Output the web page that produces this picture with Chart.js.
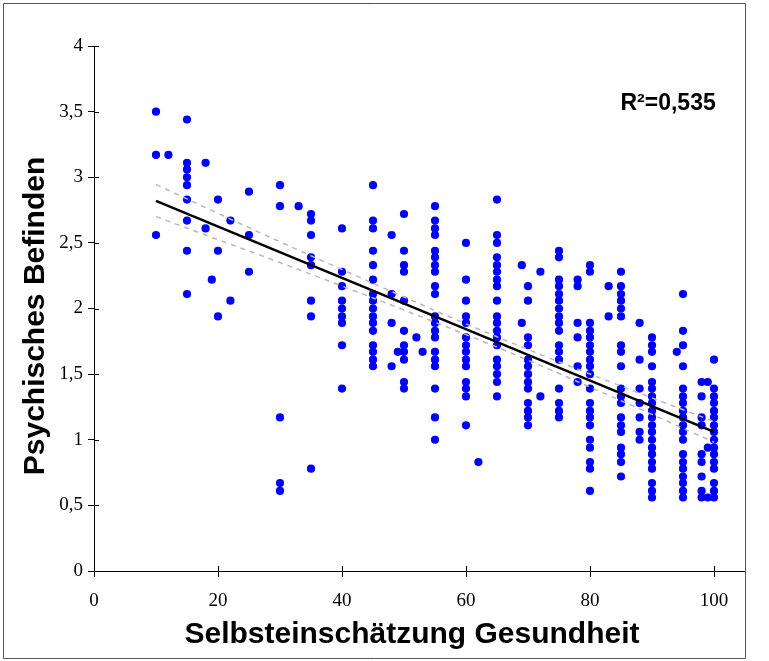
<!DOCTYPE html>
<html>
<head>
<meta charset="utf-8">
<script src="https://cdn.jsdelivr.net/npm/chart.js@4/dist/chart.umd.min.js"></script>
<style>
  html, body { margin: 0; padding: 0; background: #fff; }
  #wrap { width: 769px; height: 661px; position: relative; }
</style>
</head>
<body>
<div id="wrap"><canvas id="c" width="769" height="661"></canvas></div>
<script>
// Self-rated health (x) and psychological well-being (y), grouped by health score
const healthScores = [10, 12, 15, 18, 19, 20, 22, 25, 30, 33, 35, 40, 45, 48, 49, 50, 52, 53, 55, 60, 62, 65, 69, 70, 72, 75, 78, 80, 83, 85, 88, 90, 94, 95, 98, 99, 100];
const wellbeingScores = [
  [3.50, 3.17, 2.56],
  [3.17],
  [3.44, 3.11, 3.06, 3.00, 2.94, 2.83, 2.67, 2.44, 2.11],
  [3.11, 2.61],
  [2.22],
  [2.83, 2.44, 1.94],
  [2.67, 2.06],
  [2.89, 2.56, 2.28],
  [2.94, 2.78, 1.17, 0.67, 0.61],
  [2.78],
  [2.72, 2.67, 2.56, 2.39, 2.33, 2.06, 1.94, 0.78],
  [2.61, 2.28, 2.17, 2.06, 2.00, 1.94, 1.89, 1.72, 1.39],
  [2.94, 2.67, 2.61, 2.44, 2.33, 2.22, 2.11, 2.06, 2.00, 1.94, 1.89, 1.83, 1.72, 1.67, 1.61, 1.56],
  [2.56, 2.11, 1.89, 1.56],
  [1.67],
  [2.72, 2.44, 2.33, 2.28, 2.06, 1.83, 1.72, 1.67, 1.61, 1.44, 1.39],
  [1.78],
  [1.67],
  [2.78, 2.67, 2.61, 2.56, 2.44, 2.39, 2.33, 2.28, 2.17, 2.11, 1.94, 1.89, 1.83, 1.78, 1.67, 1.61, 1.56, 1.39, 1.17, 1.00],
  [2.50, 2.22, 2.06, 1.94, 1.89, 1.78, 1.72, 1.67, 1.61, 1.56, 1.44, 1.39, 1.33, 1.11],
  [0.83],
  [2.83, 2.56, 2.50, 2.39, 2.33, 2.28, 2.22, 2.17, 2.06, 1.94, 1.89, 1.83, 1.78, 1.72, 1.61, 1.56, 1.50, 1.44, 1.33],
  [2.33, 1.89],
  [2.17, 2.06, 1.78, 1.72, 1.61, 1.56, 1.50, 1.44, 1.39, 1.28, 1.22, 1.17, 1.11],
  [2.28, 1.33],
  [2.44, 2.39, 2.22, 2.17, 2.11, 2.06, 2.00, 1.94, 1.89, 1.83, 1.72, 1.67, 1.61, 1.39, 1.28, 1.22, 1.17],
  [2.22, 2.17, 1.89, 1.78, 1.56, 1.44],
  [2.33, 2.28, 1.89, 1.83, 1.78, 1.72, 1.67, 1.61, 1.56, 1.50, 1.39, 1.28, 1.22, 1.17, 1.11, 1.00, 0.94, 0.83, 0.78, 0.61],
  [2.17, 1.94],
  [2.28, 2.17, 2.11, 2.06, 2.00, 1.94, 1.72, 1.67, 1.56, 1.39, 1.33, 1.28, 1.17, 1.11, 1.06, 0.94, 0.89, 0.83, 0.72],
  [1.89, 1.61, 1.39, 1.28, 1.17, 1.06, 1.00],
  [1.78, 1.72, 1.67, 1.56, 1.44, 1.39, 1.33, 1.28, 1.22, 1.17, 1.11, 1.06, 1.00, 0.94, 0.89, 0.83, 0.78, 0.67, 0.61, 0.56],
  [1.67],
  [2.11, 1.83, 1.72, 1.56, 1.39, 1.33, 1.28, 1.22, 1.17, 1.11, 1.06, 1.00, 0.89, 0.83, 0.78, 0.72, 0.67, 0.61, 0.56],
  [1.44, 1.33, 1.17, 1.11, 0.89, 0.83, 0.72, 0.61, 0.56],
  [1.44, 0.94, 0.56],
  [1.61, 1.39, 1.33, 1.28, 1.22, 1.17, 1.11, 1.06, 1.00, 0.94, 0.89, 0.83, 0.78, 0.67, 0.61, 0.56]
];

// Linear fit and its confidence band
const fitX = [10, 100];
const fitY = [2.820, 1.060];
const bandX = [10, 20, 30, 40, 50, 60, 70, 80, 90, 100];
const bandUpper = [2.945, 2.725, 2.508, 2.297, 2.088, 1.883, 1.688, 1.501, 1.319, 1.139];
const bandLower = [2.700, 2.525, 2.350, 2.171, 1.988, 1.801, 1.606, 1.401, 1.193, 0.981];
const rSquaredText = 'R²=0,535';

// Axis ticks and titles
const xTicks = [0, 20, 40, 60, 80, 100];
const yTicks = [0, 0.5, 1, 1.5, 2, 2.5, 3, 3.5, 4];
const xTitle = 'Selbsteinschätzung Gesundheit';
const yTitle = 'Psychisches Befinden';

const points = [];
healthScores.forEach((h, i) => wellbeingScores[i].forEach(v => points.push({ x: h, y: v })));
const pair = (xs, ys) => xs.map((x, i) => ({ x, y: ys[i] }));

const fmt = v => String(v).replace('.', ',');

const titleFontCss = 'bold 30px "Liberation Sans", Arial, sans-serif';

// Tick marks that cross the axis line, axis titles, the R² note and the outer frame
const extras = {
  id: 'extras',
  afterDraw(chart) {
    const { ctx, chartArea: a, scales: { x, y } } = chart;
    ctx.save();
    ctx.strokeStyle = '#000';
    ctx.lineWidth = 1;
    ctx.beginPath();
    x.ticks.forEach(t => {
      const px = Math.round(x.getPixelForValue(t.value)) + 0.5;
      ctx.moveTo(px, a.bottom); ctx.lineTo(px, a.bottom - 5);
    });
    y.ticks.forEach(t => {
      const py = Math.round(y.getPixelForValue(t.value)) + 0.5;
      ctx.moveTo(a.left, py); ctx.lineTo(a.left + 5, py);
    });
    ctx.stroke();

    ctx.fillStyle = '#000';
    ctx.textAlign = 'center';
    ctx.textBaseline = 'middle';
    ctx.font = titleFontCss;
    ctx.fillText(xTitle, 412, 635);
    ctx.save();
    ctx.translate(36, 316);
    ctx.rotate(-Math.PI / 2);
    ctx.fillText(yTitle, 0, 0);
    ctx.restore();

    ctx.font = 'bold 23px "Liberation Sans", Arial, sans-serif';
    ctx.fillText(rSquaredText, x.getPixelForValue(92.6), y.getPixelForValue(3.56));

    ctx.strokeStyle = '#555';
    ctx.beginPath();
    ctx.moveTo(3.5, 3.5); ctx.lineTo(745.5, 3.5);
    ctx.moveTo(3.5, 3.5); ctx.lineTo(3.5, 658.5);
    ctx.moveTo(3.5, 658.5); ctx.lineTo(745.5, 658.5);
    ctx.moveTo(745.5, 3.5); ctx.lineTo(745.5, 658.5);
    ctx.stroke();
    ctx.restore();
  }
};

const tickFont = { family: '"Liberation Serif", "Times New Roman", serif', size: 19 };

new Chart(document.getElementById('c'), {
  type: 'scatter',
  data: {
    datasets: [
      {
        label: 'Regression',
        type: 'line',
        data: pair(fitX, fitY),
        borderColor: '#000',
        borderWidth: 2.5,
        pointRadius: 0,
        order: 1
      },
      {
        label: 'Oberes Konfidenzband',
        type: 'line',
        data: pair(bandX, bandUpper),
        borderColor: '#b8b8b8',
        borderWidth: 1.5,
        borderDash: [5, 5],
        pointRadius: 0,
        tension: 0.4,
        order: 2
      },
      {
        label: 'Unteres Konfidenzband',
        type: 'line',
        data: pair(bandX, bandLower),
        borderColor: '#b8b8b8',
        borderWidth: 1.5,
        borderDash: [5, 5],
        pointRadius: 0,
        tension: 0.4,
        order: 2
      },
      {
        label: 'Befragte',
        data: points,
        backgroundColor: '#0000ff',
        borderWidth: 0,
        pointRadius: 4.1,
        order: 3
      }
    ]
  },
  options: {
    responsive: false,
    animation: false,
    events: [],
    layout: { padding: { top: 46, right: 24, bottom: 0, left: 0 } },
    plugins: { legend: { display: false }, tooltip: { enabled: false } },
    scales: {
      x: {
        type: 'linear',
        min: 0,
        max: 105,
        afterBuildTicks: s => { s.ticks = xTicks.map(v => ({ value: v })); },
        afterFit: s => { s.height = 90; },
        grid: { drawOnChartArea: false, drawTicks: true, tickLength: 6, color: '#000' },
        border: { display: true, color: '#000', width: 1 },
        ticks: { color: '#000', font: tickFont, padding: 13, maxRotation: 0, callback: v => fmt(v) },
        title: { display: false }
      },
      y: {
        type: 'linear',
        min: 0,
        max: 4,
        afterBuildTicks: s => { s.ticks = yTicks.map(v => ({ value: v })); },
        afterFit: s => { s.width = 94; },
        grid: { drawOnChartArea: false, drawTicks: true, tickLength: 6, color: '#000' },
        border: { display: true, color: '#000', width: 1 },
        ticks: { color: '#000', font: tickFont, padding: 5, callback: v => fmt(v) },
        title: { display: false }
      }
    }
  },
  plugins: [extras]
});
</script>
</body>
</html>
